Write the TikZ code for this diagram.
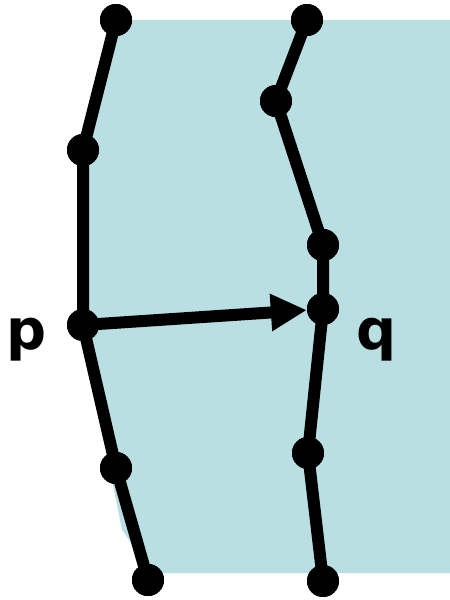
\documentclass[tikz,border=0pt]{standalone}
\usepackage{fontspec}
\setmainfont{DejaVu Sans}
\usetikzlibrary{arrows.meta}
\definecolor{region}{RGB}{186,223,227}
\tikzset{
  dot/.style={circle,fill=black,inner sep=0pt,minimum size=32pt},
  path/.style={line width=12pt,line join=round,line cap=round},
  lbl/.style={font=\fontsize{56}{60}\selectfont\bfseries,anchor=base,inner sep=0pt}
}
\begin{document}
\begin{tikzpicture}[x=1pt,y=-1pt]
  \useasboundingbox (0,0) rectangle (450,600);
  % shaded region between the two paths
  \fill[region] (117,20) -- (450,20) -- (450,573) -- (152,573) -- (122,530)
    -- (100,420) -- (83,325) -- (83,150) -- cycle;
  % left path points
  \node[dot] (l1) at (116,20) {};
  \node[dot] (l2) at (83,150) {};
  \node[dot] (l3) at (83,325) {};
  \node[dot] (l4) at (116,468) {};
  \node[dot] (l5) at (148,580) {};
  % right path points
  \node[dot] (r1) at (307,20) {};
  \node[dot] (r2) at (276,101) {};
  \node[dot] (r3) at (323,245) {};
  \node[dot] (r4) at (323,309) {};
  \node[dot] (r5) at (308,453) {};
  \node[dot] (r6) at (323,581) {};
  % paths
  \draw[path] (l1.center) -- (l2.center) -- (l3.center) -- (l4.center) -- (l5.center);
  \draw[path] (r1.center) -- (r2.center) -- (r3.center) -- (r4.center) -- (r5.center) -- (r6.center);
  % redraw dots over the lines
  \foreach \n in {l1,l2,l3,l4,l5,r1,r2,r3,r4,r5,r6}
    \fill (\n) circle (16pt);
  % correspondence arrow
  \draw[line width=12pt,-{Triangle[length=36pt,width=35pt]}] (l3.center) -- (r4);
  % labels
  \node[lbl] (p) at (27,349) {p};
  \node[lbl] (q) at (377,349) {q};
\end{tikzpicture}
\end{document}
